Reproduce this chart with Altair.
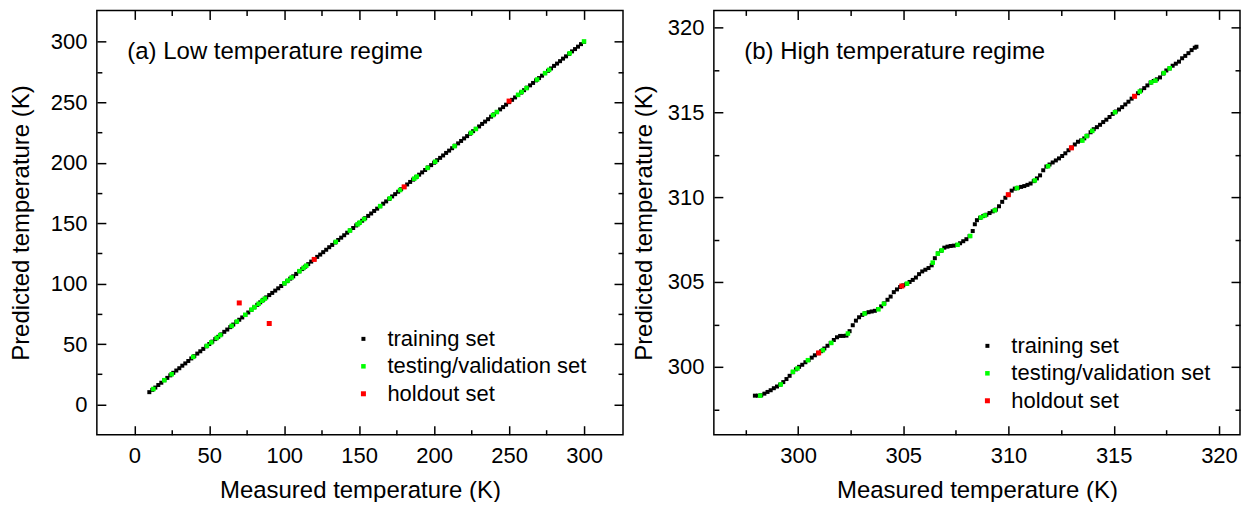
import altair as alt
import pandas as pd

SET_NAMES = ["training set", "testing/validation set", "holdout set"]
SET_COLORS = ["#000000", "#00ff00", "#ff0000"]
SET_SIZES = [16, 25, 42]

# ---------------- (a) low temperature regime ----------------
low_train_meas = [
    10, 12, 14, 16, 18, 20, 22, 24, 26, 28, 30, 32, 34, 36, 38,
    40, 42, 44, 46, 48, 50, 52, 54, 56, 58, 60, 62, 64, 66, 68,
    70, 72, 74, 76, 78, 80, 82, 84, 86, 88, 90, 92, 94, 96, 98,
    100, 102, 104, 106, 108, 110, 112, 114, 116, 118, 120, 122, 124, 126, 128,
    130, 132, 134, 136, 138, 140, 142, 144, 146, 148, 150, 152, 154, 156, 158,
    160, 162, 164, 166, 168, 170, 172, 174, 176, 178, 180, 182, 184, 186, 188,
    190, 192, 194, 196, 198, 200, 202, 204, 206, 208, 210, 212, 214, 216, 218,
    220, 222, 224, 226, 228, 230, 232, 234, 236, 238, 240, 242, 244, 246, 248,
    250, 252, 254, 256, 258, 260, 262, 264, 266, 268, 270, 272, 274, 276, 278,
    280, 282, 284, 286, 288, 290, 292, 294, 296, 298, 300,
]
low_train_pred = [
    10.2, 12.1, 14.0, 16.1, 18.0, 20.1, 22.0, 24.1, 26.2, 28.1, 30.0, 32.1, 34.0, 36.0, 38.1,
    40.0, 42.1, 44.0, 46.0, 48.1, 50.0, 52.0, 54.1, 56.0, 58.0, 60.1, 62.0, 64.0, 66.1, 68.2,
    70.1, 72.0, 74.0, 76.1, 78.2, 80.3, 82.4, 84.5, 86.6, 88.6, 90.5, 92.3, 94.2, 96.1, 98.0,
    100.0, 102.0, 104.1, 106.0, 108.0, 110.1, 112.0, 114.0, 116.1, 118.2, 120.2, 122.1, 124.0, 126.0, 128.0,
    130.1, 132.0, 134.0, 136.1, 138.0, 140.0, 142.1, 144.0, 146.0, 148.1, 150.0, 152.0, 154.1, 156.0, 158.0,
    160.1, 162.0, 164.0, 166.1, 168.0, 170.0, 172.1, 174.0, 176.0, 178.1, 180.0, 182.0, 184.1, 186.0, 188.0,
    190.1, 192.0, 194.0, 196.1, 198.0, 200.0, 202.1, 204.0, 206.0, 208.1, 210.0, 212.0, 214.1, 216.0, 218.0,
    220.1, 222.0, 224.0, 226.1, 228.0, 230.0, 232.1, 234.0, 236.0, 238.1, 240.0, 242.0, 244.1, 246.0, 248.0,
    250.1, 252.0, 254.0, 256.1, 258.0, 260.0, 262.1, 264.0, 266.0, 268.1, 270.0, 272.0, 274.1, 276.0, 278.0,
    280.1, 282.0, 284.0, 286.1, 288.0, 290.0, 292.1, 294.0, 296.0, 298.1, 300.0,
]
low_test_meas = [
    12.7, 20.0, 24.9, 39.3, 48.4, 51.3, 54.9, 57.3, 64.9, 68.4, 74.0, 78.2,
    80.2, 82.9, 85.3, 87.1, 100.2, 102.4, 104.9, 110.2, 112.9, 114.7, 134.4,
    143.8, 148.9, 150.4, 153.3, 164.0, 170.4, 177.3, 186.7, 188.4, 195.6,
    200.7, 213.6, 224.6, 227.8, 239.3, 241.8, 256.0, 258.4, 261.6, 268.7,
    274.0, 276.7, 290.4, 300.0,
]
low_test_pred = [
    12.8, 20.1, 25.0, 39.4, 48.5, 51.4, 55.0, 57.4, 65.0, 68.6, 74.2, 78.5,
    80.6, 83.3, 85.8, 87.6, 100.3, 102.5, 105.0, 110.3, 113.0, 114.8, 134.5,
    143.9, 149.0, 150.5, 153.4, 164.1, 170.5, 177.4, 186.8, 188.5, 195.7,
    200.8, 213.7, 224.7, 227.9, 239.4, 241.9, 256.1, 258.5, 261.7, 268.8,
    274.1, 276.8, 290.5, 300.3,
]
low_hold_meas = [70, 90, 120, 180, 250]
low_hold_pred = [84, 67, 120, 180, 251]

# ---------------- (b) high temperature regime ----------------
high_train_meas = [
    297.95, 298.10, 298.25, 298.40, 298.55, 298.70, 298.85, 299.00, 299.15, 299.30,
    299.45, 299.60, 299.75, 299.90, 300.05, 300.20, 300.35, 300.50, 300.65, 300.80,
    300.95, 301.10, 301.25, 301.40, 301.55, 301.70, 301.85, 302.00, 302.15, 302.30,
    302.45, 302.60, 302.75, 302.90, 303.05, 303.20, 303.35, 303.50, 303.65, 303.80,
    303.95, 304.10, 304.25, 304.40, 304.55, 304.70, 304.85, 305.00, 305.15, 305.30,
    305.45, 305.60, 305.75, 305.90, 306.05, 306.20, 306.35, 306.50, 306.65, 306.80,
    306.95, 307.10, 307.25, 307.40, 307.55, 307.70, 307.85, 308.00, 308.15, 308.30,
    308.40, 308.50, 308.65, 308.80, 308.95, 309.10, 309.25, 309.40, 309.55, 309.70,
    309.85, 310.00, 310.15, 310.30, 310.45, 310.60, 310.75, 310.90, 311.05, 311.20,
    311.35, 311.50, 311.65, 311.80, 311.95, 312.10, 312.25, 312.40, 312.55, 312.70,
    312.85, 313.00, 313.15, 313.30, 313.45, 313.60, 313.75, 313.90, 314.05, 314.20,
    314.35, 314.50, 314.65, 314.80, 314.95, 315.10, 315.25, 315.40, 315.55, 315.70,
    315.85, 316.00, 316.15, 316.30, 316.45, 316.60, 316.75, 316.90, 317.05, 317.20,
    317.35, 317.50, 317.65, 317.80, 317.95, 318.10, 318.25, 318.40, 318.55, 318.70,
    318.85, 318.93,
]
high_train_pred = [
    298.30, 298.30, 298.32, 298.42, 298.52, 298.62, 298.74, 298.84, 298.95, 299.10,
    299.28, 299.47, 299.68, 299.85, 300.00, 300.12, 300.27, 300.40, 300.54, 300.68,
    300.80, 300.92, 301.08, 301.24, 301.40, 301.58, 301.74, 301.82, 301.82, 301.84,
    302.10, 302.45, 302.72, 302.92, 303.06, 303.16, 303.22, 303.26, 303.30, 303.40,
    303.56, 303.74, 303.95, 304.14, 304.40, 304.56, 304.70, 304.80, 304.88, 305.00,
    305.12, 305.26, 305.46, 305.62, 305.72, 305.82, 305.98, 306.40, 306.68, 306.84,
    307.02, 307.08, 307.12, 307.14, 307.18, 307.28, 307.40, 307.52, 307.70, 308.00,
    308.40, 308.64, 308.78, 308.88, 308.96, 309.06, 309.16, 309.26, 309.46, 309.72,
    309.96, 310.14, 310.38, 310.50, 310.55, 310.60, 310.65, 310.72, 310.80, 310.94,
    311.10, 311.28, 311.58, 311.80, 311.92, 312.04, 312.16, 312.28, 312.42, 312.58,
    312.76, 312.92, 313.10, 313.26, 313.34, 313.46, 313.62, 313.82, 314.00, 314.12,
    314.26, 314.42, 314.56, 314.72, 314.90, 315.04, 315.16, 315.30, 315.46, 315.62,
    315.80, 315.95, 316.12, 316.28, 316.42, 316.58, 316.74, 316.84, 316.94, 317.05,
    317.28, 317.46, 317.58, 317.74, 317.86, 317.98, 318.18, 318.32, 318.48, 318.66,
    318.80, 318.86,
]
high_test_meas = [
    298.20, 299.18, 299.76, 299.97, 300.47, 301.18, 301.58, 302.37, 303.16, 303.82,
    304.08, 305.18, 306.40, 306.64, 306.83, 307.58, 308.18, 308.69, 308.88, 309.35,
    310.40, 311.25, 311.88, 313.51, 313.71, 313.98, 315.06, 316.24, 316.78, 316.98,
    317.38, 317.66,
]
high_test_pred = [
    298.30, 298.96, 299.71, 299.90, 300.39, 300.98, 301.41, 301.96, 303.14, 303.39,
    303.71, 304.90, 306.14, 306.67, 306.86, 307.19, 307.71, 308.80, 308.92, 309.22,
    310.53, 310.98, 311.82, 313.33, 313.59, 313.90, 315.00, 316.22, 316.76, 316.86,
    317.31, 317.59,
]
high_hold_meas = [300.98, 304.93, 309.99, 312.99, 315.99]
high_hold_pred = [300.82, 304.76, 310.14, 312.90, 315.94]

low_ticks = [0, 25, 50, 75, 100, 125, 150, 175, 200, 225, 250, 275, 300]
high_ticks = [297.5, 300, 302.5, 305, 307.5, 310, 312.5, 315, 317.5, 320]

FONT = "Liberation Sans"


def make_frame(groups):
    rows = []
    for name, (ms, ps) in zip(SET_NAMES, groups):
        rows += [{"meas": m, "pred": p, "set": name} for m, p in zip(ms, ps)]
    return pd.DataFrame(rows)


def panel(df, hold_df, domain, ticks, major, label, leg_x, leg_y, w, h, ytitle_pad):
    tick_expr = f"datum.value % {major} === 0 ? -9 : -5"
    lab_expr = f"datum.value % {major} === 0 ? datum.label : ''"
    scale = alt.Scale(domain=domain, nice=False, zero=False)
    leg = alt.Legend(
        orient="none", legendX=leg_x, legendY=leg_y, title=None,
        labelFont=FONT, labelFontSize=22, labelColor="black", labelLimit=0,
        labelOffset=13, rowPadding=5.5, padding=0, symbolStrokeWidth=0,
    )
    pts = alt.Chart(df).mark_square(opacity=1, strokeWidth=0).encode(
        x=alt.X("meas:Q", scale=scale, axis=alt.Axis(
            orient="bottom", values=ticks, tickSize=alt.ExprRef(expr=tick_expr),
            labelExpr=lab_expr, labelPadding=20, labelFlush=False, labelOverlap=False,
            title="Measured temperature (K)", titlePadding=8, minExtent=0)),
        y=alt.Y("pred:Q", scale=scale, axis=alt.Axis(
            orient="left", values=ticks, tickSize=alt.ExprRef(expr=tick_expr),
            labelExpr=lab_expr, labelPadding=19, labelFlush=False, labelOverlap=False,
            title="Predicted temperature (K)", titlePadding=ytitle_pad, minExtent=0)),
        color=alt.Color("set:N", scale=alt.Scale(domain=SET_NAMES, range=SET_COLORS), legend=leg),
        size=alt.Size("set:N", scale=alt.Scale(domain=SET_NAMES, range=SET_SIZES), legend=leg),
    )
    ghost = alt.Chart(hold_df).mark_point(opacity=0).encode(
        x=alt.X("meas:Q", scale=scale, axis=alt.Axis(
            orient="top", values=ticks, tickSize=alt.ExprRef(expr=tick_expr),
            labels=False, title=label, titleX=30, titleY=41, titleAlign="left",
            titleBaseline="middle", titleAngle=0, minExtent=0)),
        y=alt.Y("pred:Q", scale=scale, axis=alt.Axis(
            orient="right", values=ticks, tickSize=alt.ExprRef(expr=tick_expr),
            labels=False, title=None, minExtent=0)),
    )
    return (
        alt.layer(pts, ghost)
        .resolve_scale(x="shared", y="shared")
        .resolve_axis(x="independent", y="independent")
        .properties(width=w, height=h)
    )


low_df = make_frame([(low_train_meas, low_train_pred), (low_test_meas, low_test_pred),
                     (low_hold_meas, low_hold_pred)])
high_df = make_frame([(high_train_meas, high_train_pred), (high_test_meas, high_test_pred),
                      (high_hold_meas, high_hold_pred)])
low_hold = pd.DataFrame({"meas": low_hold_meas, "pred": low_hold_pred})
high_hold = pd.DataFrame({"meas": high_hold_meas, "pred": high_hold_pred})

left = panel(low_df, low_hold, [-25, 326], low_ticks, 50,
             "(a) Low temperature regime", 256, 318, 527, 425, 17)
right = panel(high_df, high_hold, [296, 321], high_ticks, 5,
              "(b) High temperature regime", 263, 325, 527, 425, 11)

chart = (
    alt.hconcat(left, right, spacing=6)
    .resolve_scale(color="independent", size="independent")
    .properties(padding={"left": 0, "top": 0, "right": 0, "bottom": -2})
    .configure_view(stroke="black", strokeWidth=1.5)
    .configure_axis(
        domain=False, grid=False, tickColor="black", tickWidth=1.5,
        labelFont=FONT, labelFontSize=22, labelColor="black",
        titleFont=FONT, titleFontSize=24, titleFontWeight="normal", titleColor="black",
    )
)

chart.save("out.html", embed_options={"renderer": "svg", "actions": False})
